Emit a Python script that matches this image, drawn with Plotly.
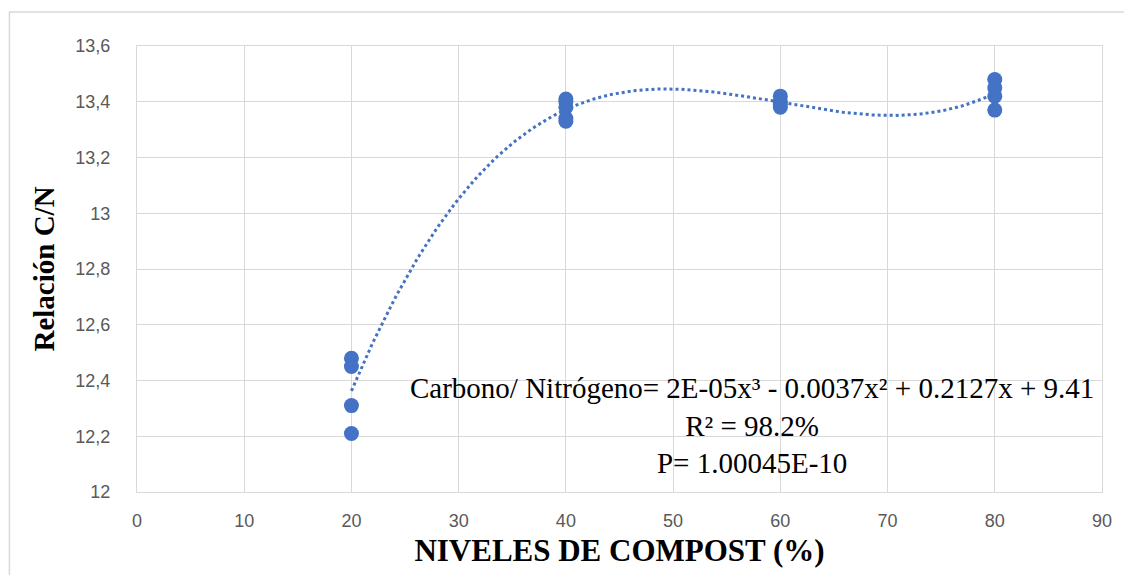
import numpy as np
import plotly.graph_objects as go

# Compost level (%) and measured C/N ratio per replicate
nivel_20 = [12.48, 12.45, 12.31, 12.21]
nivel_40 = [13.41, 13.40, 13.38, 13.34, 13.33]
nivel_60 = [13.42, 13.40, 13.39, 13.38]
nivel_80 = [13.48, 13.45, 13.42, 13.37]
niveles = [20, 40, 60, 80]

y_tickvals = [12.0, 12.2, 12.4, 12.6, 12.8, 13.0, 13.2, 13.4, 13.6]
y_ticktext = ["12", "12,2", "12,4", "12,6", "12,8", "13", "13,2", "13,4", "13,6"]
x_tickvals = [0, 10, 20, 30, 40, 50, 60, 70, 80, 90]

grupos = [nivel_20, nivel_40, nivel_60, nivel_80]
xs = [n for n, g in zip(niveles, grupos) for _ in g]
ys = [v for g in grupos for v in g]

# Cubic polynomial trend line fitted to the replicates
coef = np.polyfit(xs, ys, 3)
x_fit = np.linspace(min(niveles), max(niveles), 200)
y_fit = np.polyval(coef, x_fit)

AZUL = "#4472C4"
GRID = "#d9d9d9"
TICK_FONT = dict(family="Liberation Sans Narrow, Liberation Sans, Arial", size=18, color="#595959")
SERIF = "Liberation Serif, Times New Roman, serif"

fig = go.Figure()
fig.add_trace(go.Scatter(
    x=x_fit, y=y_fit, mode="lines",
    line=dict(color=AZUL, width=3, dash="dot"),
    hoverinfo="skip", showlegend=False,
))
fig.add_trace(go.Scatter(
    x=xs, y=ys, mode="markers",
    marker=dict(color=AZUL, size=15),
    showlegend=False,
))

fig.update_layout(
    width=1124, height=575,
    margin=dict(l=137, r=19, t=46, b=83),
    paper_bgcolor="white", plot_bgcolor="white",
    xaxis=dict(
        range=[0, 90], tickvals=x_tickvals,
        showgrid=True, gridcolor=GRID, gridwidth=1,
        zeroline=False, showline=True, linecolor=GRID, linewidth=1, mirror=True,
        ticks="outside", ticklen=12, tickcolor="rgba(0,0,0,0)",
        tickfont=TICK_FONT,
        title=dict(text="<b>NIVELES DE COMPOST (%)</b>",
                   font=dict(family=SERIF, size=31, color="black"), standoff=9),
    ),
    yaxis=dict(
        range=[12, 13.6], tickvals=y_tickvals, ticktext=y_ticktext,
        showgrid=True, gridcolor=GRID, gridwidth=1,
        zeroline=False, showline=True, linecolor=GRID, linewidth=1, mirror=True,
        ticks="outside", ticklen=22, tickcolor="rgba(0,0,0,0)",
        tickfont=TICK_FONT,
        title=dict(text="<b>Relación C/N</b>",
                   font=dict(family=SERIF, size=29, color="black"), standoff=12),
    ),
    annotations=[dict(
        xref="x", yref="y", x=57.4, y=12.237,
        text="Carbono/ Nitrógeno= 2E-05x³ - 0.0037x² + 0.2127x + 9.41<br>"
             "R² = 98.2%<br>P= 1.00045E-10",
        showarrow=False, align="center",
        font=dict(family=SERIF, size=29, color="black"),
    )],
    shapes=[dict(
        type="rect", xref="paper", yref="paper",
        x0=-0.1322, x1=1.5, y0=-0.5, y1=1.0762,
        line=dict(color=GRID, width=1.5), fillcolor="rgba(0,0,0,0)", layer="below",
    )],
)

fig.write_html("out.html")
